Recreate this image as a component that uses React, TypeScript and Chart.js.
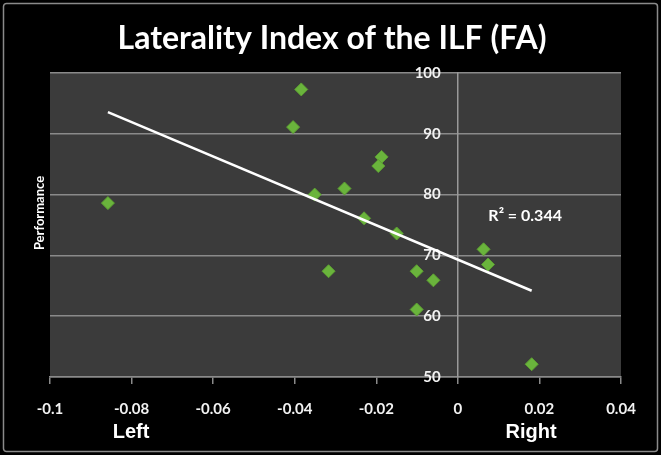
import React, { useEffect, useRef } from "react";
import { Chart, registerables } from "chart.js";

Chart.register(...registerables);

const TITLE = "Laterality Index of the ILF (FA)";
const Y_LABEL = "Performance";
const LEFT_LABEL = "Left";
const RIGHT_LABEL = "Right";
const R2_TEXT = "R² = 0.344";

const lateralityX = [
  -0.0384, -0.0404, -0.0858, -0.0351, -0.0278, -0.0187, -0.0195, -0.023,
  -0.015, 0.0063, 0.0074, -0.0317, -0.0101, -0.006, -0.0101, 0.0181,
];
const performanceY = [
  97.3, 91.1, 78.6, 80.0, 81.0, 86.2, 84.7, 76.1, 73.6, 71.0, 68.5, 67.4,
  67.4, 65.9, 61.1, 52.1,
];
const xTicks = [-0.1, -0.08, -0.06, -0.04, -0.02, 0, 0.02, 0.04];
const yTicks = [50, 60, 70, 80, 90, 100];
const r2Position = { x: 0.0165, y: 76.5 };
const yLabelAnchorX = -0.0042;

function regression(xs: number[], ys: number[]) {
  const n = xs.length;
  const mx = xs.reduce((a, b) => a + b, 0) / n;
  const my = ys.reduce((a, b) => a + b, 0) / n;
  let sxy = 0;
  let sxx = 0;
  for (let i = 0; i < n; i++) {
    sxy += (xs[i] - mx) * (ys[i] - my);
    sxx += (xs[i] - mx) * (xs[i] - mx);
  }
  const slope = sxy / sxx;
  return { slope, intercept: my - slope * mx };
}

export default function App() {
  const ref = useRef<HTMLCanvasElement | null>(null);

  useEffect(() => {
    document.body.style.margin = "0";
    document.body.style.background = "#000";
    const canvas = ref.current;
    if (!canvas) return;
    const { slope, intercept } = regression(lateralityX, performanceY);
    const xmin = Math.min(...lateralityX);
    const xmax = Math.max(...lateralityX);
    const trend = [
      { x: xmin, y: intercept + slope * xmin },
      { x: xmax, y: intercept + slope * xmax },
    ];

    const decor = {
      id: "decor",
      beforeDraw(chart: any) {
        const { ctx, chartArea, width, height } = chart;
        ctx.save();
        ctx.fillStyle = "#000";
        ctx.fillRect(0, 0, width, height);
        ctx.strokeStyle = "#8a8a8a";
        ctx.lineWidth = 1.5;
        ctx.beginPath();
        (ctx as any).roundRect(3.5, 3.5, width - 7, height - 7, 3);
        ctx.stroke();
        ctx.fillStyle = "#3b3b3b";
        ctx.fillRect(
          chartArea.left,
          chartArea.top,
          chartArea.right - chartArea.left,
          chartArea.bottom - chartArea.top
        );
        ctx.restore();
      },
      afterDraw(chart: any) {
        const { ctx, scales } = chart;
        ctx.save();
        ctx.fillStyle = "#ffffff";
        ctx.textAlign = "center";
        ctx.textBaseline = "alphabetic";
        ctx.font = "bold 32px Lato";
        ctx.fillText(TITLE, 332, 49);
        ctx.font = "bold 20px 'Liberation Sans'";
        ctx.fillText(LEFT_LABEL, 131, 438);
        ctx.fillText(RIGHT_LABEL, 531, 438);
        ctx.font = "bold 16px Lato";
        ctx.textBaseline = "middle";
        ctx.fillText(
          R2_TEXT,
          scales.x.getPixelForValue(r2Position.x),
          scales.y.getPixelForValue(r2Position.y)
        );
        ctx.translate(40, 213);
        ctx.rotate(-Math.PI / 2);
        ctx.font = "bold 13px Lato";
        ctx.fillText(Y_LABEL, 0, 0);
        ctx.restore();
      },
    };

    const chart = new Chart(canvas, {
      type: "scatter",
      data: {
        datasets: [
          {
            type: "line",
            data: trend,
            borderColor: "#ffffff",
            borderWidth: 2.5,
            pointRadius: 0,
            fill: false,
          } as any,
          {
            data: lateralityX.map((x, i) => ({ x, y: performanceY[i] })),
            pointStyle: "rectRot",
            pointRadius: 6.5,
            backgroundColor: "#6ab43c",
            borderColor: "#5c9f32",
            borderWidth: 1,
          },
        ],
      },
      options: {
        animation: false,
        responsive: false,
        layout: { padding: { left: 50, right: 40, top: 73, bottom: 38 } },
        plugins: {
          legend: { display: false },
          tooltip: { enabled: false },
          title: { display: false },
        },
        scales: {
          x: {
            type: "linear",
            min: -0.1,
            max: 0.04,
            afterFit(scale: any) {
              scale.height = 40;
            },
            afterBuildTicks(scale: any) {
              scale.ticks = xTicks.map((v) => ({ value: v }));
            },
            ticks: {
              color: "#f2f2f2",
              font: { family: "Lato", weight: "bold", size: 15 },
              padding: 16,
              maxRotation: 0,
              autoSkip: false,
              callback: (v: any) => String(Number(v)),
            },
            grid: {
              drawOnChartArea: false,
              drawTicks: true,
              tickLength: 7,
              color: "#8a8a8a",
              lineWidth: 1.5,
            },
            border: { display: true, color: "#8a8a8a", width: 1.5 },
          },
          y: {
            type: "linear",
            position: { x: 0 } as any,
            min: 50,
            max: 100,
            afterBuildTicks(scale: any) {
              scale.ticks = yTicks.map((v) => ({ value: v }));
            },
            ticks: { display: false },
            grid: {
              drawTicks: false,
              color: "#8a8a8a",
              lineWidth: 1.5,
            },
            border: { display: true, color: "#9a9a9a", width: 1.5 },
          },
          yLabels: {
            type: "linear",
            axis: "y",
            position: { x: yLabelAnchorX } as any,
            min: 50,
            max: 100,
            afterBuildTicks(scale: any) {
              scale.ticks = yTicks.map((v) => ({ value: v }));
            },
            ticks: {
              color: "#f2f2f2",
              font: { family: "Lato", weight: "bold", size: 15 },
              autoSkip: false,
            },
            grid: { display: false, drawTicks: false },
            border: { display: false },
          },
        } as any,
      },
      plugins: [decor],
    });
    return () => chart.destroy();
  }, []);

  return (
    <div style={{ width: 661, height: 455 }}>
      <canvas ref={ref} width={661} height={455} style={{ display: "block" }} />
    </div>
  );
}
